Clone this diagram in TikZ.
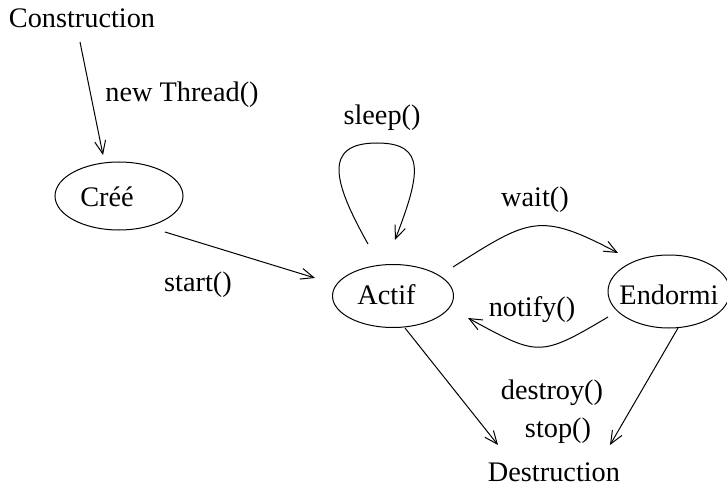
\documentclass[tikz,border=0pt]{standalone}
\usepackage{fontspec}
\setmainfont{Liberation Serif}
\usetikzlibrary{arrows.meta,shapes.geometric}
\begin{document}
\begin{tikzpicture}[x=1pt,y=-1pt,
  every node/.style={font=\fontsize{28.3}{34}\selectfont},
  txt/.style={anchor=base, inner sep=0pt},
  state/.style={draw, ellipse, line width=1pt, inner sep=0pt, text depth=0pt},
  arr/.style={line width=1pt, -{Straight Barb[length=13pt,width=11pt]}}]
\clip (0,0) rectangle (727,486);

% labels and states
\node[txt] (constr) at (82,28) {Construction};
\node[txt] (lnew) at (182,102) {new Thread()};
\node[state, minimum width=128pt, minimum height=68pt, text height=22pt] (cree) at (119,196) {\makebox[0pt]{Créé\hspace*{24pt}}};
\node[txt] (lstart) at (198,291) {start()};
\node[state, minimum width=121pt, minimum height=63pt, text height=16pt] (actif) at (393,296) {\makebox[0pt]{Actif\hspace*{13pt}}};
\node[txt] (lsleep) at (382,125) {sleep()};
\node[state, minimum width=122pt, minimum height=73pt, text height=25pt] (endormi) at (669,291.5) {\makebox[0pt]{Endormi}};
\node[txt] (lwait) at (535,207) {wait()};
\node[txt] (lnotify) at (532,316) {notify()};
\node[txt] (ldestroy) at (552,399) {destroy()};
\node[txt] (lstop) at (558,437) {stop()};
\node[txt] (destr) at (554,481) {Destruction};

% connectors
\draw[arr] ([shift={(-2,14)}]constr.base) -- ([shift={(-16,-41)}]cree.center);
\draw[arr] ([shift={(46,36)}]cree.center) -- ([shift={(-78,-18)}]actif.center);
\draw[arr] ([shift={(-25,-52)}]actif.center) .. controls (333.7,183) and (322,143) .. (377,143)
           .. controls (427,143) and (420,175) .. ([shift={(2,-56)}]actif.center);
\draw[arr] ([shift={(60,-29)}]actif.center) .. controls (529,219) and (539,211) .. ([shift={(-51,-38.5)}]endormi.center);
\draw[arr] ([shift={(-61,25.5)}]endormi.center) .. controls (539,358) and (538,356) .. ([shift={(75,22)}]actif.center);
\draw[arr] ([shift={(12,32)}]actif.center) -- ([shift={(-56,-36)}]destr.base);
\draw[arr] ([shift={(9,36.5)}]endormi.center) -- ([shift={(56,-36)}]destr.base);
\end{tikzpicture}
\end{document}
